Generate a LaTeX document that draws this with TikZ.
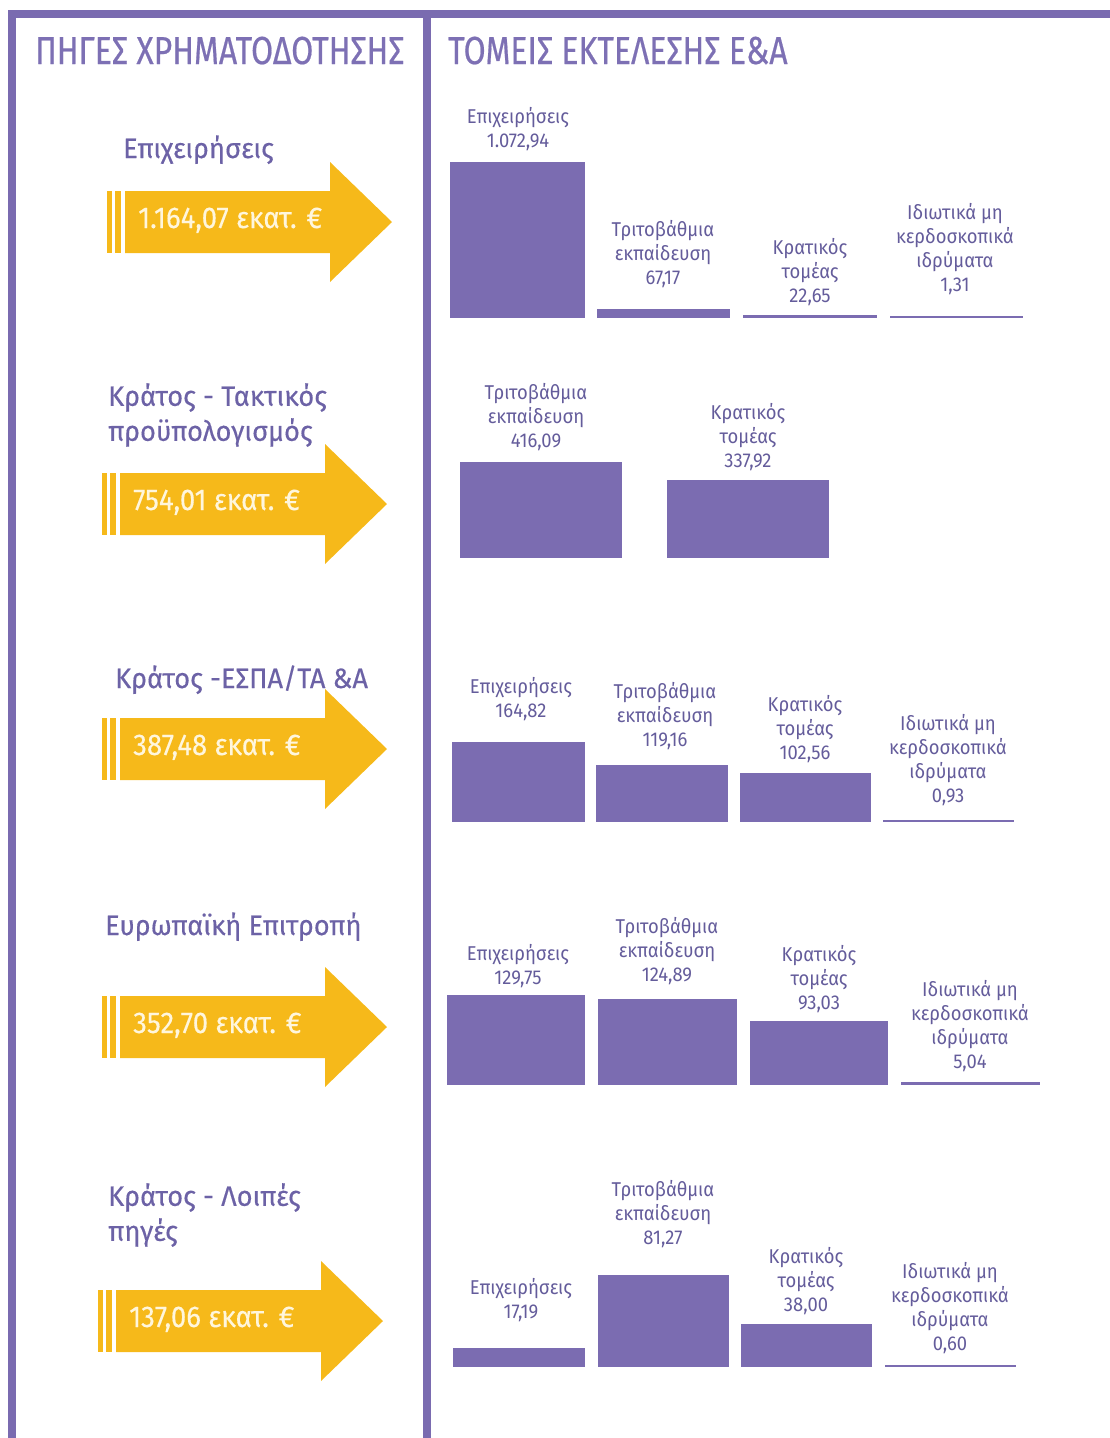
\documentclass[tikz,border=0pt]{standalone}
\usepackage{fontspec}
\setmainfont{Fira Sans}
\newfontfamily\headfont[FakeStretch=0.82,FakeBold=0.5]{Fira Sans}
\newfontfamily\srcfont[FakeBold=0.4,FakeStretch=0.97]{Fira Sans}
\newfontfamily\numfont[FakeStretch=0.92,FakeBold=0.3]{Fira Sans}
\newfontfamily\smallfont[FakeStretch=0.92]{Fira Sans}
\usepackage{tikz}
\usetikzlibrary{calc}
\usepackage{xcolor}
\definecolor{framepurple}{RGB}{122,107,176}
\definecolor{barpurple}{RGB}{123,108,177}
\definecolor{headpurple}{RGB}{125,112,180}
\definecolor{srcpurple}{RGB}{108,98,166}
\definecolor{lblpurple}{RGB}{100,92,155}
\definecolor{arrowyellow}{RGB}{246,185,26}
\definecolor{creamtext}{RGB}{255,246,220}

\begin{document}
\begin{tikzpicture}[x=1pt, y=-1pt,
    bar/.style={fill=barpurple},
    thinbar/.style={draw=barpurple},
    lbl/.style={text=lblpurple, font=\smallfont\fontsize{20}{24}\selectfont, align=center, inner sep=0pt},
    src/.style={text=srcpurple, font=\srcfont\fontsize{28}{35}\selectfont, align=left, inner sep=0pt},
    head/.style={text=headpurple, font=\headfont\fontsize{39}{42}\selectfont, inner sep=0pt, anchor=base west},
    amount/.style={text=creamtext, font=\numfont\fontsize{30}{32}\selectfont, inner sep=0pt, anchor=base west}]
  \useasboundingbox (0,0) rectangle (1110,1438);

  % frame
  \fill[framepurple] (8,10) rectangle (1110,18);
  \fill[framepurple] (8,10) rectangle (16,1438);
  \fill[framepurple] (423,10) rectangle (431,1438);
  \node[head] (hsrc) at (35,64) {ΠΗΓΕΣ ΧΡΗΜΑΤΟΔΟΤΗΣΗΣ};
  \node[head] (hsec) at (448,64) {ΤΟΜΕΙΣ ΕΚΤΕΛΕΣΗΣ Ε\&Α};

  % funding arrows
  \foreach \tx/\cy/\amt [count=\i] in {392/222/{1.164,07 εκατ. €}, 387/504/{754,01 εκατ. €},
      387/749/{387,48 εκατ. €}, 387/1027/{352,70 εκατ. €}, 383/1321/{137,06 εκατ. €}} {
    \fill[arrowyellow] ({\tx-267},{\cy-31}) -- ({\tx-62},{\cy-31}) -- ({\tx-62},{\cy-60})
      -- (\tx,\cy) -- ({\tx-62},{\cy+60}) -- ({\tx-62},{\cy+31}) -- ({\tx-267},{\cy+31}) -- cycle;
    \fill[arrowyellow] ({\tx-285},{\cy-31}) rectangle ({\tx-280},{\cy+31});
    \fill[arrowyellow] ({\tx-277},{\cy-31}) rectangle ({\tx-271},{\cy+31});
    \node[amount] (amt\i) at ({\tx-254},{\cy+6}) {\amt};
  }

  % sources
  \node[src, anchor=base west] (src1) at (123,158) {Επιχειρήσεις};
  \node[src, anchor=north west] (src2) at (108,383) {Κράτος - Τακτικός\\προϋπολογισμός};
  \node[src, anchor=base west] (src3) at (115,688) {Κράτος -ΕΣΠΑ/ΤΑ \&Α};
  \node[src, anchor=base west] (src4) at (105,935) {Ευρωπαϊκή Επιτροπή};
  \node[src, anchor=north west] (src5) at (108,1183) {Κράτος - Λοιπές\\πηγές};

  % row 1
  \fill[bar] (450,162) rectangle (585,318);
  \fill[bar] (597,309) rectangle (730,318);
  \fill[bar] (743,315) rectangle (877,318);
  \draw[thinbar, line width=1.5pt] (890,317) -- (1023,317);
  \node[lbl] (r1a) at (518,129) {Επιχειρήσεις\\1.072,94};
  \node[lbl] (r1b) at (663,254) {Τριτοβάθμια\\εκπαίδευση\\67,17};
  \node[lbl] (r1c) at (810,272) {Κρατικός\\τομέας\\22,65};
  \node[lbl] (r1d) at (955,249) {Ιδιωτικά μη\\κερδοσκοπικά\\ιδρύματα\\1,31};

  % row 2
  \fill[bar] (460,462) rectangle (622,558);
  \fill[bar] (667,480) rectangle (829,558);
  \node[lbl] (r2a) at (536,417) {Τριτοβάθμια\\εκπαίδευση\\416,09};
  \node[lbl] (r2b) at (748,437) {Κρατικός\\τομέας\\337,92};

  % row 3
  \fill[bar] (452,742) rectangle (585,822);
  \fill[bar] (596,765) rectangle (728,822);
  \fill[bar] (740,773) rectangle (871,822);
  \draw[thinbar, line width=2pt] (883,821) -- (1014,821);
  \node[lbl] (r3a) at (521,699) {Επιχειρήσεις\\164,82};
  \node[lbl] (r3b) at (665,716) {Τριτοβάθμια\\εκπαίδευση\\119,16};
  \node[lbl] (r3c) at (805,729) {Κρατικός\\τομέας\\102,56};
  \node[lbl] (r3d) at (948,760) {Ιδιωτικά μη\\κερδοσκοπικά\\ιδρύματα\\0,93};

  % row 4
  \fill[bar] (447,995) rectangle (585,1085);
  \fill[bar] (598,999) rectangle (737,1085);
  \fill[bar] (750,1021) rectangle (888,1085);
  \fill[bar] (901,1082) rectangle (1040,1085);
  \node[lbl] (r4a) at (518,966) {Επιχειρήσεις\\129,75};
  \node[lbl] (r4b) at (667,951) {Τριτοβάθμια\\εκπαίδευση\\124,89};
  \node[lbl] (r4c) at (819,979) {Κρατικός\\τομέας\\93,03};
  \node[lbl] (r4d) at (970,1026) {Ιδιωτικά μη\\κερδοσκοπικά\\ιδρύματα\\5,04};

  % row 5
  \fill[bar] (453,1348) rectangle (585,1367);
  \fill[bar] (598,1275) rectangle (729,1367);
  \fill[bar] (741,1324) rectangle (872,1367);
  \draw[thinbar, line width=1.5pt] (885,1366) -- (1016,1366);
  \node[lbl] (r5a) at (521,1300) {Επιχειρήσεις\\17,19};
  \node[lbl] (r5b) at (663,1214) {Τριτοβάθμια\\εκπαίδευση\\81,27};
  \node[lbl] (r5c) at (806,1281) {Κρατικός\\τομέας\\38,00};
  \node[lbl] (r5d) at (950,1308) {Ιδιωτικά μη\\κερδοσκοπικά\\ιδρύματα\\0,60};
\end{tikzpicture}
\end{document}
